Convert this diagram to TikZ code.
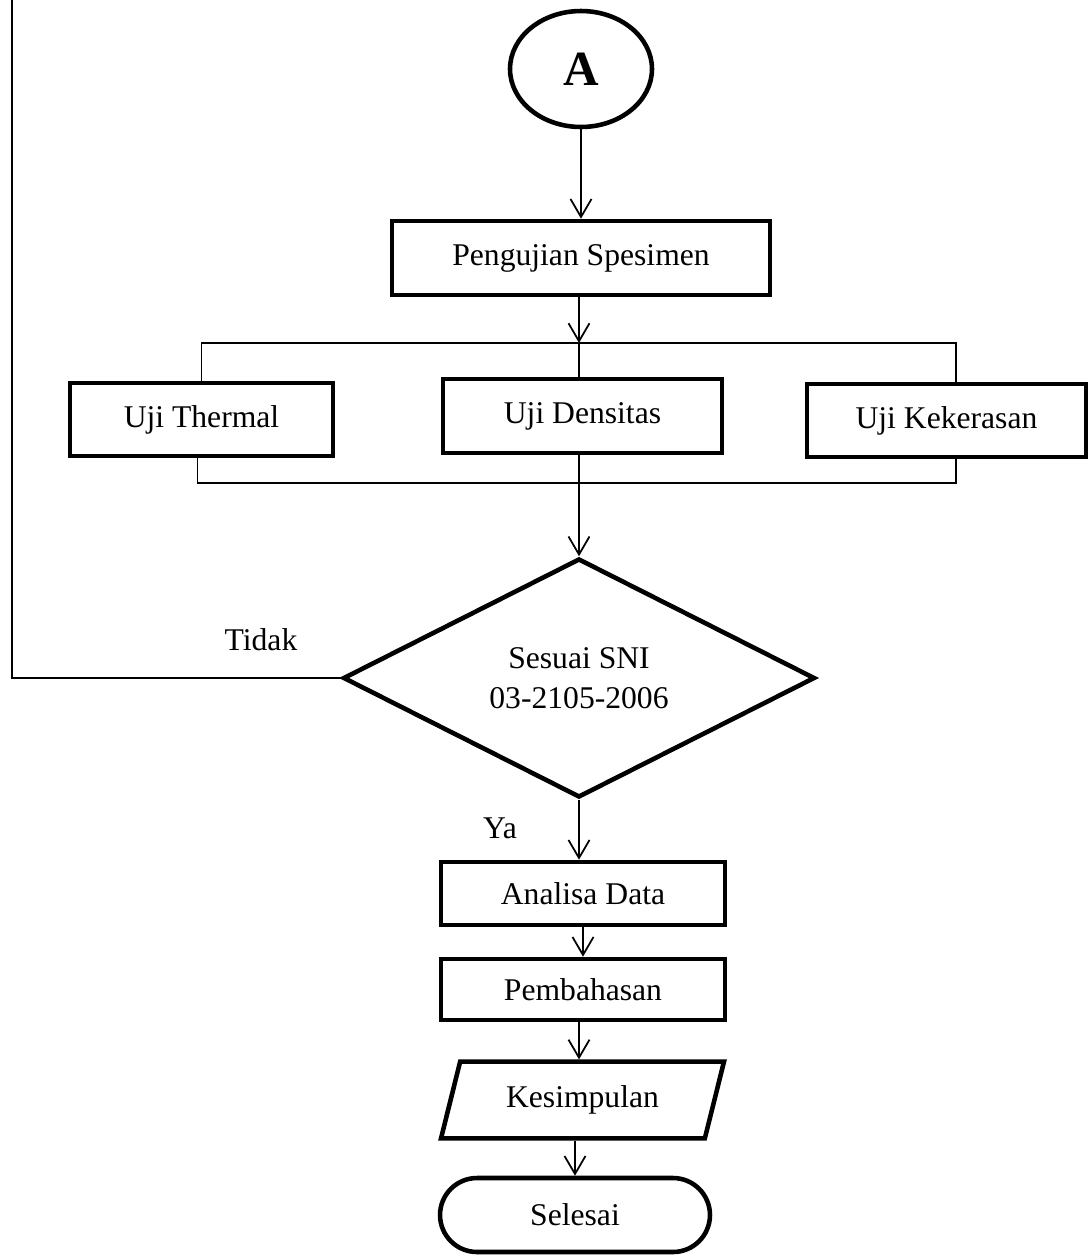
\documentclass[tikz,border=0pt]{standalone}
\usepackage{fontspec}
\setmainfont{Liberation Serif}
\usetikzlibrary{shapes.geometric,shapes.misc,arrows.meta}

\begin{document}
\begin{tikzpicture}[x=0.02cm, y=-0.02cm, >={Straight Barb[length=3.6mm,width=4.2mm]},
	font=\fontsize{18}{23}\selectfont,
	proses/.style={draw, rectangle, line width=2.6pt, inner sep=0pt},
	garis/.style={line width=1pt},
	cabang/.style={line width=0.75pt}]
	
	% 1. Batas gambar
	\useasboundingbox (0,0) rectangle (1089,1255);
	
	% 2. Simbol alir
	\node[draw, ellipse, line width=2.6pt, minimum width=2.84cm, minimum height=2.32cm, inner sep=0pt, font=\fontsize{28}{32}\selectfont\bfseries] (a) at (581,69) {A};
	\node[proses, minimum width=7.56cm, minimum height=1.48cm] (uji) at (581,258) {Pengujian Spesimen};
	\node[proses, minimum width=5.26cm, minimum height=1.46cm] (thermal) at (201.5,419.5) {Uji Thermal};
	\node[proses, minimum width=5.58cm, minimum height=1.48cm] (densitas) at (582.5,416) {Uji Densitas};
	\node[proses, minimum width=5.58cm, minimum height=1.46cm] (keras) at (946.5,420.5) {Uji Kekerasan};
	\node[draw, diamond, aspect=2, line width=2.6pt, minimum width=9.44cm, minimum height=4.78cm, inner sep=0pt, align=center] (sni) at (579,678) {Sesuai SNI\\03-2105-2006};
	\node[proses, minimum width=5.68cm, minimum height=1.26cm] (analisa) at (583,893.5) {Analisa Data};
	\node[proses, minimum width=5.68cm, minimum height=1.22cm] (bahas) at (583,989.5) {Pembahasan};
	\node[draw, trapezium, trapezium left angle=76, trapezium right angle=104, trapezium stretches body, line width=2.6pt, minimum width=5.66cm, inner xsep=0pt, inner ysep=0.48cm] (simpul) at (582.5,1100) {Kesimpulan};
	\node[draw, rounded rectangle, line width=2.6pt, minimum width=5.4cm, minimum height=1.48cm, inner sep=0pt] (selesai) at (575,1215) {Selesai};
	
	% 3. Titik bantu
	\coordinate (pisah) at (579,343);
	\coordinate (gabung) at (579,483);
	\coordinate (balik) at (12,0);
	
	% 4. Garis alir
	\draw[->, garis] (a) -- (uji);
	\draw[->, garis] (uji.south -| pisah) -- (pisah);
	\draw[cabang] (thermal.north) |- (pisah) -| ([xshift=0.19cm]keras.north);
	\draw[garis] (pisah) -- (pisah |- densitas.north);
	\draw[cabang] ([xshift=-0.08cm]thermal.south) |- (gabung) -| ([xshift=0.19cm]keras.south);
	\draw[->, garis] (densitas.south -| gabung) -- (sni.north);
	\draw[garis] (sni.west) -| (balik);
	\draw[->, garis] (sni.south) -- (sni.south |- analisa.north);
	\draw[->, garis] (analisa) -- (bahas);
	\draw[->, garis] (bahas.south -| pisah) -- (pisah |- simpul.north);
	\draw[->, garis] (selesai.north |- simpul.south) -- (selesai.north);
	
	% 5. Keterangan cabang
	\node (tidak) at (261,640) {Tidak};
	\node (ya) at (500,828) {Ya};
	
\end{tikzpicture}
\end{document}
